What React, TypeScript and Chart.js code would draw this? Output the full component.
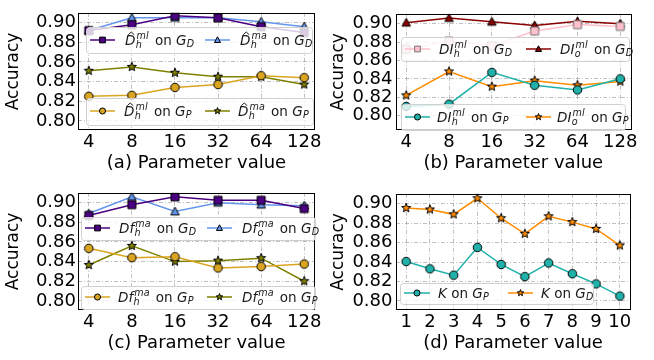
import React, { useEffect, useRef } from 'react';
import { Chart, registerables } from 'chart.js';
Chart.register(...registerables);

// ---------------- data ----------------
const paramLabels = ['4', '8', '16', '32', '64', '128'];
const kLabels = ['1', '2', '3', '4', '5', '6', '7', '8', '9', '10'];
const yTicks = [0.8, 0.82, 0.84, 0.86, 0.88, 0.9];

// (a)
const aDmlGD = [0.892, 0.898, 0.907, 0.905, 0.896, 0.89];
const aDmaGD = [0.892, 0.905, 0.905, 0.905, 0.901, 0.896];
const aDmlGP = [0.825, 0.826, 0.834, 0.837, 0.846, 0.844];
const aDmaGP = [0.851, 0.855, 0.849, 0.845, 0.845, 0.837];
// (b)
const bDIhGD = [0.872, 0.881, 0.876, 0.892, 0.899, 0.897];
const bDIoGD = [0.901, 0.906, 0.902, 0.898, 0.9025, 0.9];
const bDIhGP = [0.81, 0.8125, 0.847, 0.833, 0.828, 0.84];
const bDIoGP = [0.822, 0.848, 0.8315, 0.838, 0.833, 0.837];
// (c)
const cDfhGD = [0.887, 0.898, 0.906, 0.9025, 0.9025, 0.894];
const cDfoGD = [0.889, 0.906, 0.891, 0.9, 0.898, 0.897];
const cDfhGP = [0.8535, 0.844, 0.845, 0.8335, 0.835, 0.8375];
const cDfoGP = [0.8365, 0.856, 0.84, 0.841, 0.8435, 0.82];
// (d)
const dKGP = [0.8405, 0.833, 0.8265, 0.855, 0.8375, 0.825, 0.839, 0.828, 0.8175, 0.805];
const dKGD = [0.8955, 0.894, 0.889, 0.9055, 0.885, 0.869, 0.887, 0.881, 0.874, 0.857];

// ---------------- styling helpers ----------------
const FAM = '"DejaVu Sans", sans-serif';
type Shape = 'square' | 'triangle' | 'circle' | 'star';

function pathMarker(g: CanvasRenderingContext2D, shape: Shape, cx: number, cy: number, size: number) {
  const r = size / 2;
  g.beginPath();
  if (shape === 'square') {
    g.rect(cx - r, cy - r, size, size);
  } else if (shape === 'circle') {
    g.arc(cx, cy, r, 0, Math.PI * 2);
  } else if (shape === 'triangle') {
    g.moveTo(cx, cy - r * 1.05);
    g.lineTo(cx + r, cy + r * 0.8);
    g.lineTo(cx - r, cy + r * 0.8);
    g.closePath();
  } else {
    for (let i = 0; i < 10; i++) {
      const a = -Math.PI / 2 + (i * Math.PI) / 5;
      const rr = i % 2 === 0 ? r : r * 0.42;
      const px = cx + rr * Math.cos(a);
      const py = cy + rr * Math.sin(a);
      if (i === 0) g.moveTo(px, py);
      else g.lineTo(px, py);
    }
    g.closePath();
  }
}

const markerSize: Record<Shape, number> = { square: 8, triangle: 8.5, circle: 8.5, star: 9.5 };

function makeMarker(shape: Shape, fill: string, edge: string) {
  const size = markerSize[shape];
  const S = Math.ceil(size) + 4;
  const c = document.createElement('canvas');
  c.width = S;
  c.height = S;
  const g = c.getContext('2d')!;
  pathMarker(g, shape, S / 2, S / 2, size);
  g.fillStyle = fill;
  g.fill();
  g.lineWidth = 1;
  g.strokeStyle = edge;
  g.stroke();
  return c;
}

type Seg = { t: string; k: 'i' | 'r' | 'sub' | 'subsup'; sup?: string; hat?: boolean };

function drawMath(g: CanvasRenderingContext2D, segs: Seg[], x: number, yMid: number) {
  const base = 13.5;
  const small = 9.6;
  const bl = yMid + 4.7;
  let cx = x;
  g.fillStyle = '#1a1a1a';
  g.textAlign = 'left';
  g.textBaseline = 'alphabetic';
  for (const s of segs) {
    if (s.k === 'i' || s.k === 'r') {
      g.font = `${s.k === 'i' ? 'italic ' : ''}${base}px ${FAM}`;
      g.fillText(s.t, cx, bl);
      const w = g.measureText(s.t).width;
      if (s.hat) {
        const hx = cx + w * 0.6;
        const hy = bl - 11.5;
        g.save();
        g.beginPath();
        g.moveTo(hx - 3, hy + 1.5);
        g.lineTo(hx, hy - 1.2);
        g.lineTo(hx + 3, hy + 1.5);
        g.strokeStyle = '#1a1a1a';
        g.lineWidth = 1;
        g.stroke();
        g.restore();
      }
      cx += w;
    } else if (s.k === 'sub') {
      g.font = `italic ${small}px ${FAM}`;
      g.fillText(s.t, cx + 0.3, bl + 2.6);
      cx += g.measureText(s.t).width + 0.3;
    } else {
      g.font = `italic ${small}px ${FAM}`;
      const w1 = g.measureText(s.t).width;
      const w2 = g.measureText(s.sup || '').width;
      g.fillText(s.t, cx + 0.3, bl + 3.1);
      g.fillText(s.sup || '', cx + 1.2, bl - 5.8);
      cx += Math.max(w1 + 0.3, w2 + 1.2) + 2;
    }
  }
}

const on: Seg = { t: ' on ', k: 'r' };
const gD: Seg[] = [on, { t: 'G', k: 'i' }, { t: 'D', k: 'sub' }];
const gP: Seg[] = [on, { t: 'G', k: 'i' }, { t: 'P', k: 'sub' }];

type SeriesSpec = { values: number[]; color: string; shape: Shape; edge: string };
type LegendItem = { s: number; segs: Seg[]; h0: number; h1: number; tx: number };
type LegendBox = { x: number; y: number; w: number; h: number; row: number; items: LegendItem[] };
type PanelSpec = {
  left: number;
  top: number;
  xs: number[];
  xLabels: string[];
  xMin: number;
  xMax: number;
  yMin: number;
  yMax: number;
  title: string;
  series: SeriesSpec[];
  legends: LegendBox[];
  chartLeft: number;
  chartRight: number;
  yTitlePad: number;
  yTickPad: number;
};

const idx6 = [0, 1, 2, 3, 4, 5];
const idx10 = [1, 2, 3, 4, 5, 6, 7, 8, 9, 10];

const PURPLE = '#4b0082';
const BLUE = '#6495ed';
const GOLD = '#daa520';
const OLIVE = '#808000';
const PINK = '#ffc0cb';
const DRED = '#8b0000';
const TEAL = '#20b2aa';
const ORANGE = '#ff8c00';

const panels: PanelSpec[] = [
  {
    left: 0, top: 0, xs: idx6, xLabels: paramLabels, xMin: -0.25, xMax: 5.25,
    yMin: 0.7907, yMax: 0.9101, title: '(a) Parameter value',
    chartLeft: 78, chartRight: 315, yTitlePad: 3, yTickPad: 2,
    series: [
      { values: aDmlGD, color: PURPLE, shape: 'square', edge: '#000' },
      { values: aDmaGD, color: BLUE, shape: 'triangle', edge: '#000' },
      { values: aDmlGP, color: GOLD, shape: 'circle', edge: '#000' },
      { values: aDmaGP, color: OLIVE, shape: 'star', edge: '#000' },
    ],
    legends: [
      { x: 86, y: 27, w: 226, h: 26, row: 40, items: [
        { s: 0, segs: [{ t: 'D', k: 'i', hat: true }, { t: 'h', k: 'subsup', sup: 'ml' }, ...gD], h0: 90, h1: 115, tx: 125 },
        { s: 1, segs: [{ t: 'D', k: 'i', hat: true }, { t: 'h', k: 'subsup', sup: 'ma' }, ...gD], h0: 205, h1: 230, tx: 240 },
      ] },
      { x: 86, y: 98, w: 227, h: 27, row: 111, items: [
        { s: 2, segs: [{ t: 'D', k: 'i', hat: true }, { t: 'h', k: 'subsup', sup: 'ml' }, ...gP], h0: 90, h1: 115, tx: 124 },
        { s: 3, segs: [{ t: 'D', k: 'i', hat: true }, { t: 'h', k: 'subsup', sup: 'ma' }, ...gP], h0: 205, h1: 230, tx: 238 },
      ] },
    ],
  },
  {
    left: 327, top: 0, xs: idx6, xLabels: paramLabels, xMin: -0.25, xMax: 5.25,
    yMin: 0.7844, yMax: 0.9107, title: '(b) Parameter value',
    chartLeft: 68.5, chartRight: 304, yTitlePad: 1, yTickPad: 3,
    series: [
      { values: bDIhGD, color: PINK, shape: 'square', edge: '#777' },
      { values: bDIoGD, color: DRED, shape: 'triangle', edge: '#000' },
      { values: bDIhGP, color: TEAL, shape: 'circle', edge: '#000' },
      { values: bDIoGP, color: ORANGE, shape: 'star', edge: '#000' },
    ],
    legends: [
      { x: 74, y: 37, w: 228, h: 24, row: 49, items: [
        { s: 0, segs: [{ t: 'DI', k: 'i' }, { t: 'h', k: 'subsup', sup: 'ml' }, ...gD], h0: 78, h1: 103, tx: 112 },
        { s: 1, segs: [{ t: 'DI', k: 'i' }, { t: 'o', k: 'subsup', sup: 'ml' }, ...gD], h0: 199, h1: 224, tx: 233 },
      ] },
      { x: 74, y: 104, w: 224, h: 26, row: 117, items: [
        { s: 2, segs: [{ t: 'DI', k: 'i' }, { t: 'h', k: 'subsup', sup: 'ml' }, ...gP], h0: 78, h1: 103, tx: 110 },
        { s: 3, segs: [{ t: 'DI', k: 'i' }, { t: 'o', k: 'subsup', sup: 'ml' }, ...gP], h0: 199, h1: 224, tx: 230 },
      ] },
    ],
  },
  {
    left: 0, top: 180, xs: idx6, xLabels: paramLabels, xMin: -0.25, xMax: 5.25,
    yMin: 0.7907, yMax: 0.9101, title: '(c) Parameter value',
    chartLeft: 78, chartRight: 315, yTitlePad: 3, yTickPad: 2,
    series: [
      { values: cDfhGD, color: PURPLE, shape: 'square', edge: '#000' },
      { values: cDfoGD, color: BLUE, shape: 'triangle', edge: '#000' },
      { values: cDfhGP, color: GOLD, shape: 'circle', edge: '#000' },
      { values: cDfoGP, color: OLIVE, shape: 'star', edge: '#000' },
    ],
    legends: [
      { x: 81, y: 37, w: 234, h: 23, row: 48, items: [
        { s: 0, segs: [{ t: 'Df', k: 'i' }, { t: 'h', k: 'subsup', sup: 'ma' }, ...gD], h0: 85, h1: 110, tx: 119 },
        { s: 1, segs: [{ t: 'Df', k: 'i' }, { t: 'o', k: 'subsup', sup: 'ma' }, ...gD], h0: 207, h1: 232, tx: 242 },
      ] },
      { x: 81, y: 106, w: 234, h: 23, row: 117, items: [
        { s: 2, segs: [{ t: 'Df', k: 'i' }, { t: 'h', k: 'subsup', sup: 'ma' }, ...gP], h0: 85, h1: 110, tx: 118 },
        { s: 3, segs: [{ t: 'Df', k: 'i' }, { t: 'o', k: 'subsup', sup: 'ma' }, ...gP], h0: 207, h1: 232, tx: 242 },
      ] },
    ],
  },
  {
    left: 327, top: 180, xs: idx10, xLabels: kLabels, xMin: 0.55, xMax: 10.45,
    yMin: 0.7907, yMax: 0.9101, title: '(d) Parameter value',
    chartLeft: 68.5, chartRight: 303.5, yTitlePad: 1, yTickPad: 3,
    series: [
      { values: dKGP, color: TEAL, shape: 'circle', edge: '#000' },
      { values: dKGD, color: ORANGE, shape: 'star', edge: '#000' },
    ],
    legends: [
      { x: 73, y: 103, w: 193, h: 21, row: 113, items: [
        { s: 0, segs: [{ t: 'K', k: 'i' }, ...gP], h0: 77, h1: 103, tx: 111 },
        { s: 1, segs: [{ t: 'K', k: 'i' }, ...gD], h0: 181, h1: 206, tx: 214 },
      ] },
    ],
  },
];

const W = 327;
const H = 180;
const CHART_TOP = 2;
const CHART_BOTTOM = 130;

function roundRect(g: CanvasRenderingContext2D, x: number, y: number, w: number, h: number, r: number) {
  g.beginPath();
  g.moveTo(x + r, y);
  g.lineTo(x + w - r, y);
  g.arcTo(x + w, y, x + w, y + r, r);
  g.lineTo(x + w, y + h - r);
  g.arcTo(x + w, y + h, x + w - r, y + h, r);
  g.lineTo(x + r, y + h);
  g.arcTo(x, y + h, x, y + h - r, r);
  g.lineTo(x, y + r);
  g.arcTo(x, y, x + r, y, r);
  g.closePath();
}

function Panel({ spec }: { spec: PanelSpec }) {
  const ref = useRef<HTMLCanvasElement | null>(null);
  useEffect(() => {
    const canvas = ref.current;
    if (!canvas) return;
    const tickFont = { family: FAM, size: 18 };
    const datasets = spec.series.map((s) => ({
      data: s.values.map((v, i) => ({ x: spec.xs[i], y: v })),
      borderColor: s.color,
      backgroundColor: s.color,
      borderWidth: 1.5,
      pointStyle: makeMarker(s.shape, s.color, s.edge),
      pointRadius: 4,
      pointHoverRadius: 4,
      tension: 0,
    }));

    const framePlugin = {
      id: 'frame',
      afterDraw(chart: any) {
        const g: CanvasRenderingContext2D = chart.ctx;
        const a = chart.chartArea;
        g.save();
        g.setLineDash([]);
        g.strokeStyle = '#000';
        g.lineWidth = 1;
        g.strokeRect(Math.round(a.left) + 0.5, Math.round(a.top) + 0.5, Math.round(a.right - a.left) - 1, Math.round(a.bottom - a.top) - 1);
        g.restore();
      },
    };

    const legendPlugin = {
      id: 'mathLegend',
      afterDraw(chart: any) {
        const g: CanvasRenderingContext2D = chart.ctx;
        g.save();
        g.setLineDash([]);
        for (const lb of spec.legends) {
          roundRect(g, lb.x + 0.5, lb.y + 0.5, lb.w, lb.h, 3);
          g.fillStyle = 'rgba(255,255,255,0.8)';
          g.fill();
          g.strokeStyle = '#d0d0d0';
          g.lineWidth = 1;
          g.stroke();
          for (const it of lb.items) {
            const s = spec.series[it.s];
            g.beginPath();
            g.moveTo(it.h0, lb.row);
            g.lineTo(it.h1, lb.row);
            g.strokeStyle = s.color;
            g.lineWidth = 1.5;
            g.stroke();
            pathMarker(g, s.shape, (it.h0 + it.h1) / 2, lb.row, markerSize[s.shape] * 0.72);
            g.fillStyle = s.color;
            g.fill();
            g.strokeStyle = s.edge;
            g.lineWidth = 1;
            g.stroke();
            drawMath(g, it.segs, it.tx, lb.row);
          }
        }
        g.restore();
      },
    };

    const chart = new Chart(canvas, {
      type: 'line',
      data: { datasets },
      options: {
        animation: false,
        responsive: false,
        events: [],
        layout: { padding: { top: CHART_TOP, right: W - spec.chartRight, left: 0, bottom: 0 } },
        plugins: { legend: { display: false }, tooltip: { enabled: false } },
        scales: {
          x: {
            type: 'linear',
            min: spec.xMin,
            max: spec.xMax,
            afterBuildTicks: (sc: any) => {
              sc.ticks = spec.xs.map((v) => ({ value: v }));
            },
            afterFit: (sc: any) => {
              sc.height = H - CHART_BOTTOM;
            },
            ticks: {
              autoSkip: false,
              maxRotation: 0,
              color: '#000',
              font: tickFont,
              padding: 2,
              callback: (v: any) => spec.xLabels[spec.xs.indexOf(Number(v))],
            },
            grid: { color: 'rgba(150,150,150,0.75)', lineWidth: 0.8, drawTicks: false },
            border: { display: false, dash: [4, 2, 1, 2] },
            title: { display: true, text: spec.title, color: '#000', font: { family: FAM, size: 18 }, padding: { top: 0, bottom: 6 } },
          },
          y: {
            type: 'linear',
            min: spec.yMin,
            max: spec.yMax,
            afterBuildTicks: (sc: any) => {
              sc.ticks = yTicks.map((v) => ({ value: v }));
            },
            afterFit: (sc: any) => {
              sc.width = spec.chartLeft;
            },
            ticks: {
              autoSkip: false,
              color: '#000',
              font: tickFont,
              padding: spec.yTickPad,
              callback: (v: any) => Number(v).toFixed(2),
            },
            grid: { color: 'rgba(150,150,150,0.75)', lineWidth: 0.8, drawTicks: false },
            border: { display: false, dash: [4, 2, 1, 2] },
            title: { display: true, text: 'Accuracy', color: '#000', font: { family: FAM, size: 17 }, padding: { top: spec.yTitlePad, bottom: 0 } },
          },
        },
      } as any,
      plugins: [framePlugin, legendPlugin],
    });
    return () => chart.destroy();
  }, [spec]);
  return (
    <canvas
      ref={ref}
      width={W}
      height={H}
      style={{ position: 'absolute', left: spec.left, top: spec.top, width: W, height: H, display: 'block' }}
    />
  );
}

export default function App() {
  return (
    <div style={{ position: 'fixed', left: 0, top: 0, width: 654, height: 360, background: '#fff', overflow: 'hidden' }}>
      {panels.map((p, i) => (
        <Panel key={i} spec={p} />
      ))}
    </div>
  );
}
